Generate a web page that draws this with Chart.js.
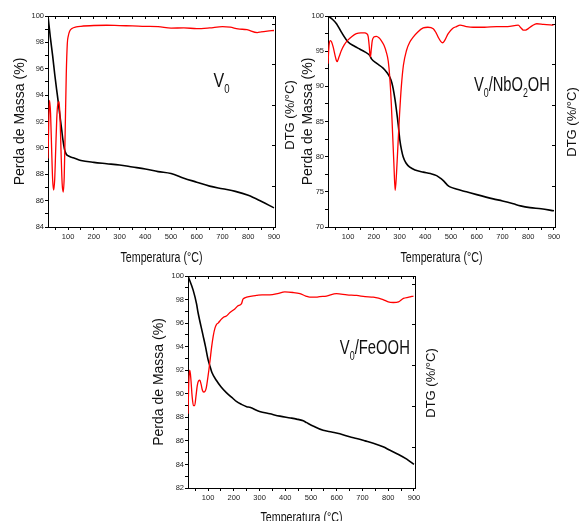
<!DOCTYPE html>
<html><head><meta charset="utf-8">
<script src="https://cdn.jsdelivr.net/npm/chart.js@4/dist/chart.umd.min.js"></script>
<style>
html,body{margin:0;padding:0;background:#fff;width:579px;height:521px;overflow:hidden;position:relative}
canvas{position:absolute;display:block}
</style></head><body>
<canvas id="c1" width="300" height="270" style="left:0px;top:0px;width:300px;height:270px"></canvas>
<canvas id="c2" width="299" height="270" style="left:280px;top:0px;width:299px;height:270px"></canvas>
<canvas id="c3" width="300" height="280" style="left:140px;top:260px;width:300px;height:280px"></canvas>
<script>
// ---------- DATA ----------
const xTickLabels = [100, 200, 300, 400, 500, 600, 700, 800, 900];
const xMinorTicks = [50, 100, 150, 200, 250, 300, 350, 400, 450, 500, 550, 600, 650, 700, 750, 800, 850, 900];

// V0
const v0YTickLabels = [84, 86, 88, 90, 92, 94, 96, 98, 100];
const v0TgT = [22, 31, 40, 48, 55, 61, 68, 75, 80, 86, 91, 96, 100, 110, 120, 150, 200, 250, 300, 350, 400, 450, 500, 550, 600, 650, 700, 750, 800, 850, 900];
const v0Tg  = [100, 98.4, 97.0, 95.6, 94.5, 93.6, 92.5, 91.4, 90.6, 89.9, 89.6, 89.45, 89.4, 89.3, 89.25, 89.05, 88.9, 88.8, 88.7, 88.55, 88.4, 88.2, 88.05, 87.7, 87.4, 87.1, 86.9, 86.7, 86.4, 85.95, 85.45];
const v0DtgT = [22, 25, 28, 32, 36, 40, 44, 48, 52, 56, 60, 65, 69, 73, 77, 81, 85, 89, 93, 97, 101, 106, 115, 132, 150, 200, 250, 300, 350, 400, 450, 500, 550, 600, 650, 700, 730, 760, 795, 835, 850, 874, 900];
const v0Dtg  = [89.2, 92.0, 93.6, 92.6, 90.0, 87.6, 86.8, 87.6, 89.9, 92.2, 93.3, 93.5, 92.2, 89.5, 87.3, 86.65, 87.8, 91.5, 95.6, 97.9, 98.5, 98.85, 99.05, 99.17, 99.22, 99.28, 99.3, 99.27, 99.25, 99.22, 99.2, 99.08, 99.1, 99.04, 99.1, 99.2, 99.15, 99.02, 98.96, 98.74, 98.8, 98.86, 98.9];

// V0/NbO2OH
const nbYTickLabels = [70, 75, 80, 85, 90, 95, 100];
const nbTgT = [22, 40, 55, 74, 100, 125, 145, 165, 184, 191, 210, 236, 250, 262, 270, 275, 282, 288, 295, 301, 308, 314, 325, 340, 360, 392, 420, 444, 460, 470, 485, 496, 520, 560, 600, 664, 700, 742, 770, 807, 850, 900];
const nbTg  = [100, 99.5, 98.9, 97.7, 96.3, 95.7, 95.3, 94.9, 94.4, 93.9, 93.3, 92.6, 92.0, 91.3, 90.5, 89.7, 88.2, 86.6, 84.5, 82.4, 80.9, 80.0, 79.1, 78.5, 78.1, 77.8, 77.6, 77.3, 76.9, 76.6, 76.0, 75.7, 75.4, 75.0, 74.6, 74.0, 73.7, 73.3, 73.0, 72.75, 72.6, 72.3];
const nbDtgT = [22, 26, 31, 36, 42, 50, 57, 65, 74, 85, 100, 115, 132, 150, 165, 172, 178, 182, 185, 187, 190, 194, 200, 210, 220, 229, 240, 249, 256, 262, 268, 273, 278, 283, 288, 294, 300, 307, 315, 327, 340, 353, 370, 392, 410, 431, 442, 450, 460, 467, 475, 489, 505, 521, 535, 560, 586, 630, 677, 720, 761, 772, 781, 790, 800, 815, 833, 860, 898];
const nbDtg  = [93.2, 95.8, 96.5, 96.3, 95.6, 94.3, 93.5, 94.2, 95.1, 95.9, 96.6, 97.1, 97.5, 97.6, 97.6, 97.5, 97.1, 95.8, 94.5, 94.2, 95.2, 96.5, 97.0, 97.1, 96.9, 96.5, 95.8, 94.8, 93.6, 91.3, 87.5, 83.3, 79.0, 75.2, 77.5, 81.8, 86.0, 90.0, 93.0, 95.1, 96.3, 97.0, 97.7, 98.3, 98.4, 98.2, 97.6, 97.0, 96.4, 96.2, 96.5, 97.5, 98.2, 98.5, 98.7, 98.5, 98.4, 98.4, 98.5, 98.5, 98.7, 98.3, 98.0, 98.0, 98.2, 98.6, 98.9, 98.8, 98.7];

// V0/FeOOH
const feYTickLabels = [82, 84, 86, 88, 90, 92, 94, 96, 98, 100];
const feTgT = [22, 42, 55, 61, 80, 90, 100, 108, 115, 132, 150, 171, 197, 210, 230, 250, 262, 300, 340, 379, 420, 444, 470, 483, 510, 547, 580, 612, 650, 677, 710, 742, 780, 807, 840, 872, 900];
const feTg  = [100, 98.8, 97.65, 96.9, 95.0, 94.0, 92.9, 92.3, 91.8, 91.15, 90.6, 90.1, 89.6, 89.35, 89.1, 88.9, 88.85, 88.5, 88.3, 88.1, 87.95, 87.85, 87.7, 87.55, 87.25, 86.9, 86.75, 86.6, 86.35, 86.2, 86.0, 85.8, 85.5, 85.2, 84.85, 84.45, 84.0];
const feDtgT = [22, 25, 29, 33, 38, 43, 48, 53, 58, 63, 68, 73, 78, 83, 88, 93, 98, 103, 108, 114, 120, 127, 133, 139, 150, 160, 171, 185, 204, 215, 230, 235, 239, 250, 270, 288, 310, 340, 370, 398, 430, 457, 480, 495, 520, 534, 560, 599, 640, 677, 710, 742, 780, 800, 820, 840, 859, 880, 898];
const feDtg  = [88.3, 91.0, 92.0, 91.3, 89.8, 89.0, 89.0, 89.8, 90.7, 91.1, 91.15, 90.8, 90.3, 90.15, 90.2, 90.5, 91.2, 92.0, 92.9, 94.0, 94.9, 95.6, 95.9, 96.0, 96.3, 96.5, 96.6, 96.9, 97.2, 97.45, 97.65, 98.0, 98.1, 98.2, 98.3, 98.35, 98.4, 98.4, 98.5, 98.65, 98.6, 98.5, 98.3, 98.2, 98.2, 98.25, 98.3, 98.5, 98.4, 98.35, 98.25, 98.2, 98.0, 97.8, 97.75, 97.8, 98.1, 98.2, 98.3];

// ---------- RENDER ----------
const SANS = "Arial,'Liberation Sans',sans-serif";
const zip = (a, b) => a.map((v, i) => ({x: v, y: b[i]}));

function drawSqueezed(ctx, parts, x, y, targetW, mainSize, subSize, subDy, align) {
  const mainF = mainSize + 'px ' + SANS, subF = subSize + 'px ' + SANS;
  let w = 0;
  for (const p of parts) { ctx.font = p.sub ? subF : mainF; w += ctx.measureText(p.t).width; }
  const sx = targetW / w;
  ctx.save();
  ctx.translate(align === 'center' ? x - targetW / 2 : x, y);
  ctx.scale(sx, 1);
  ctx.textAlign = 'left';
  ctx.textBaseline = 'alphabetic';
  ctx.fillStyle = '#111';
  let cx = 0;
  for (const p of parts) {
    ctx.font = p.sub ? subF : mainF;
    ctx.fillText(p.t, cx, p.sub ? subDy : 0);
    cx += ctx.measureText(p.t).width;
  }
  ctx.restore();
}

function annotPlugin(spec) {
  return {
    id: 'annot',
    afterDraw(chart) {
      const ctx = chart.ctx;
      // right-hand axis title
      ctx.save();
      ctx.fillStyle = '#111';
      ctx.font = '13px ' + SANS;
      ctx.textAlign = 'center';
      ctx.textBaseline = 'middle';
      ctx.translate(spec.dtgX, spec.dtgY);
      ctx.rotate(-Math.PI / 2);
      ctx.fillText('DTG (%/°C)', 0, 0);
      ctx.restore();
      // bottom axis title (condensed)
      const ca = chart.chartArea;
      drawSqueezed(ctx, [{t: 'Temperatura (°C)'}], (ca.left + ca.right) / 2, spec.xTitleBase, 82, 14, 14, 0, 'center');
      // sample label
      const px = chart.scales.x.getPixelForValue(spec.labelT);
      const py = chart.scales.y.getPixelForValue(spec.labelV);
      drawSqueezed(ctx, spec.parts, px, py, spec.labelW, 20, 12, 6, 'left');
    }
  };
}

function makeChart(id, o) {
  const yMinor = [];
  for (let v = o.yMin; v <= o.yMax + 1e-9; v += o.yStep) yMinor.push(Math.round(v * 100) / 100);
  const tickFont = {family: SANS, size: 7.5};
  const gridOut = {display: true, drawOnChartArea: false, drawTicks: true, tickLength: 3, color: '#000', lineWidth: 1};
  const gridIn = {display: true, drawOnChartArea: false, drawTicks: true, tickLength: -3, color: '#000', lineWidth: 1};
  const border = {display: true, color: '#000', width: 1};
  new Chart(document.getElementById(id), {
    type: 'line',
    data: {
      datasets: [
        {data: zip(o.dtgT, o.dtg), borderColor: '#ff0000', borderWidth: 1.3, pointRadius: 0, cubicInterpolationMode: 'monotone', xAxisID: 'x', yAxisID: 'y'},
        {data: zip(o.tgT, o.tg), borderColor: '#000000', borderWidth: 1.6, pointRadius: 0, cubicInterpolationMode: 'monotone', xAxisID: 'x', yAxisID: 'y'}
      ]
    },
    options: {
      responsive: false,
      animation: false,
      layout: {padding: {top: 16, left: 0, right: 0, bottom: 0}},
      plugins: {legend: {display: false}, tooltip: {enabled: false}},
      scales: {
        x: {
          type: 'linear', position: 'bottom', min: 22, max: 904,
          afterBuildTicks: s => { s.ticks = xMinorTicks.map(v => ({value: v})); },
          ticks: {callback: v => xTickLabels.includes(v) ? String(v) : '', font: tickFont, color: '#222', padding: 2, maxRotation: 0, autoSkip: false},
          grid: gridOut, border: border,
          title: {display: false},
          afterFit: s => { s.height = o.xAxisH; }
        },
        x2: {
          type: 'linear', position: 'top', min: 22, max: 904,
          afterBuildTicks: s => { s.ticks = xMinorTicks.map(v => ({value: v})); },
          ticks: {display: false}, grid: gridIn, border: border,
          afterFit: s => { s.height = 0; }
        },
        y: {
          type: 'linear', position: 'left', min: o.yMin, max: o.yMax,
          afterBuildTicks: s => { s.ticks = yMinor.map(v => ({value: v})); },
          ticks: {callback: v => o.yLabels.includes(v) ? String(v) : '', font: tickFont, color: '#222', padding: 1, autoSkip: false},
          grid: gridOut, border: border,
          title: {display: true, text: 'Perda de Massa (%)', font: {family: SANS, size: 14}, color: '#111', padding: {top: o.yTitlePad, bottom: 0}},
          afterFit: s => { s.width = 48; }
        },
        y2: {
          type: 'linear', position: 'right', min: 0, max: 5.2,
          afterBuildTicks: s => { s.ticks = [0, 1, 2, 3, 4, 5].map(v => ({value: v})); },
          ticks: {display: false}, grid: gridIn, border: border,
          afterFit: s => { s.width = o.rightW; }
        }
      }
    },
    plugins: [annotPlugin(o.annot)]
  });
}

makeChart('c1', {
  tgT: v0TgT, tg: v0Tg, dtgT: v0DtgT, dtg: v0Dtg,
  yMin: 84, yMax: 100, yStep: 1, yLabels: v0YTickLabels,
  xAxisH: 43, yTitlePad: 11.6, rightW: 25,
  annot: {dtgX: 290, dtgY: 115, xTitleBase: 262, labelT: 665, labelV: 94.6, labelW: 16, parts: [{t: 'V'}, {t: '0', sub: true}]}
});
makeChart('c2', {
  tgT: nbTgT, tg: nbTg, dtgT: nbDtgT, dtg: nbDtg,
  yMin: 70, yMax: 100, yStep: 2.5, yLabels: nbYTickLabels,
  xAxisH: 43, yTitlePad: 20.1, rightW: 24,
  annot: {dtgX: 292, dtgY: 122, xTitleBase: 262, labelT: 589, labelV: 89.3, labelW: 76, parts: [{t: 'V'}, {t: '0', sub: true}, {t: '/NbO'}, {t: '2', sub: true}, {t: 'OH'}]}
});
makeChart('c3', {
  tgT: feTgT, tg: feTg, dtgT: feDtgT, dtg: feDtg,
  yMin: 82, yMax: 100, yStep: 1, yLabels: feYTickLabels,
  xAxisH: 52, yTitlePad: 10.6, rightW: 25,
  annot: {dtgX: 291, dtgY: 123, xTitleBase: 262, labelT: 612, labelV: 93.35, labelW: 70, parts: [{t: 'V'}, {t: '0', sub: true}, {t: '/FeOOH'}]}
});
</script>
</body></html>
